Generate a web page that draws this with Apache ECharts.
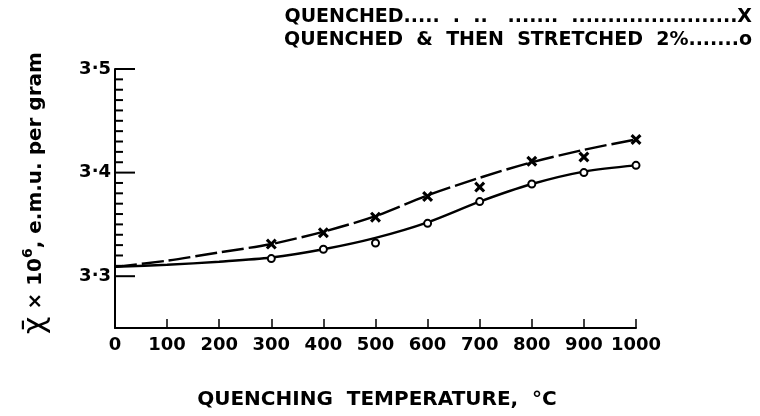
<!DOCTYPE html>
<html>
<head>
<meta charset="utf-8">
<script src="https://cdn.jsdelivr.net/npm/echarts@6/dist/echarts.min.js"></script>
<style>
html,body{margin:0;padding:0;background:#fff;}
#chart{width:760px;height:416px;}
</style>
</head>
<body>
<div id="chart"></div>
<script>
// ---- data ----
const curveTemps = [0, 100, 200, 300, 400, 500, 600, 700, 800, 900, 1000];
const quenchedCurve  = [3.309, 3.315, 3.323, 3.331, 3.343, 3.358, 3.378, 3.395, 3.410, 3.422, 3.432];
const stretchedCurve = [3.309, 3.311, 3.314, 3.318, 3.326, 3.337, 3.352, 3.372, 3.389, 3.401, 3.407];

const pointTemps     = [300, 400, 500, 600, 700, 800, 900, 1000];
const quenchedPts    = [3.331, 3.342, 3.357, 3.377, 3.386, 3.411, 3.415, 3.432];
const stretchedPts   = [3.317, 3.326, 3.332, 3.351, 3.372, 3.389, 3.400, 3.407];

const xTickLabels = ['0','100','200','300','400','500','600','700','800','900','1000'];
const yTickLabels = ['3·3','3·4','3·5'];
const yMajorTicks = [3.3, 3.4, 3.5];
const yMinorTicks = [3.31,3.32,3.33,3.34,3.35,3.36,3.37,3.38,3.39,
                     3.41,3.42,3.43,3.44,3.45,3.46,3.47,3.48,3.49];

const legendQuenched  = 'QUENCHED.....  .  ..   .......  .......................X';
const legendStretched = 'QUENCHED  &  THEN  STRETCHED  2%.......o';
const xName = 'QUENCHING  TEMPERATURE,  °C';

// ---- chart ----
const FONT = 'DejaVu Sans';
const chart = echarts.init(document.getElementById('chart'), null, {renderer:'canvas'});
const zip = (a, b) => a.map((v, i) => [v, b[i]]);
const crossPath = 'path://M0,2 L2,0 L5,3 L8,0 L10,2 L7,5 L10,8 L8,10 L5,7 L2,10 L0,8 L3,5 Z';

function tickSeries(values, len) {
  return {
    type: 'custom',
    silent: true,
    clip: false,
    z: 5,
    data: values.map(v => [0, v]),
    renderItem: function (params, api) {
      const p = api.coord([api.value(0), api.value(1)]);
      return {
        type: 'line',
        shape: {x1: p[0], y1: p[1], x2: p[0] + len, y2: p[1]},
        style: {stroke: '#000', lineWidth: 2}
      };
    }
  };
}

const option = {
  animation: false,
  backgroundColor: '#fff',
  grid: {left: 115, right: 124, top: 69, bottom: 88},
  xAxis: {
    type: 'value', min: 0, max: 1000, interval: 100,
    axisLine: {show: true, lineStyle: {color: '#000', width: 2}},
    axisTick: {show: true, inside: true, length: 9, lineStyle: {color: '#000', width: 1.5}},
    splitLine: {show: false},
    axisLabel: {
      margin: 8, color: '#000', fontFamily: FONT, fontWeight: 'bold', fontSize: 18,
      formatter: (v) => xTickLabels[Math.round(v / 100)]
    }
  },
  yAxis: {
    type: 'value', min: 3.25, max: 3.5, interval: 0.05,
    axisLine: {show: true, lineStyle: {color: '#000', width: 2}},
    axisTick: {show: false},
    splitLine: {show: false},
    axisLabel: {
      margin: 4, color: '#000', fontFamily: FONT, fontWeight: 'bold', fontSize: 18,
      formatter: (v) => {
        const k = Math.round(v * 100);
        const idx = yMajorTicks.findIndex(t => Math.round(t * 100) === k);
        return idx >= 0 ? yTickLabels[idx] : '';
      }
    }
  },
  graphic: [
    {type: 'text', right: 8, top: 8,
     style: {text: legendQuenched, fill: '#000', font: 'bold 19px "DejaVu Sans"'}},
    {type: 'text', right: 8, top: 31,
     style: {text: legendStretched, fill: '#000', font: 'bold 19px "DejaVu Sans"'}},
    {type: 'text', x: 377, y: 400,
     style: {text: xName, fill: '#000', font: 'bold 20px "DejaVu Sans"', align: 'center', verticalAlign: 'middle'}},
    {type: 'text', x: 36, y: 193, rotation: Math.PI / 2,
     style: {
       text: '{chi|χ̄} × 10{sup|6}, e.m.u. per gram',
       fill: '#000', font: 'bold 20px "DejaVu Sans"', align: 'center', verticalAlign: 'middle',
       rich: {
         chi: {fontSize: 30, fontFamily: FONT, fill: '#000'},
         sup: {fontSize: 14, fontFamily: FONT, fontWeight: 'bold', fill: '#000', verticalAlign: 'top', padding: [0,0,12,0]}
       }
     }}
  ],
  series: [
    {
      name: 'quenched fit', type: 'line', smooth: 0.3, showSymbol: false, silent: true,
      data: zip(curveTemps, quenchedCurve),
      lineStyle: {color: '#000', width: 2.4, type: [22, 5]}
    },
    {
      name: 'stretched fit', type: 'line', smooth: 0.3, showSymbol: false, silent: true,
      data: zip(curveTemps, stretchedCurve),
      lineStyle: {color: '#000', width: 2.4}
    },
    {
      name: 'Quenched', type: 'scatter', symbol: crossPath, symbolSize: 11, z: 4,
      data: zip(pointTemps, quenchedPts),
      itemStyle: {color: '#000', opacity: 1}
    },
    {
      name: 'Quenched & stretched 2%', type: 'scatter', symbol: 'circle', symbolSize: 7, z: 4,
      data: zip(pointTemps, stretchedPts),
      itemStyle: {color: '#fff', borderColor: '#000', borderWidth: 2, opacity: 1}
    },
    tickSeries(yMinorTicks, 8),
    tickSeries(yMajorTicks, 20)
  ]
};
chart.setOption(option);
</script>
</body>
</html>
